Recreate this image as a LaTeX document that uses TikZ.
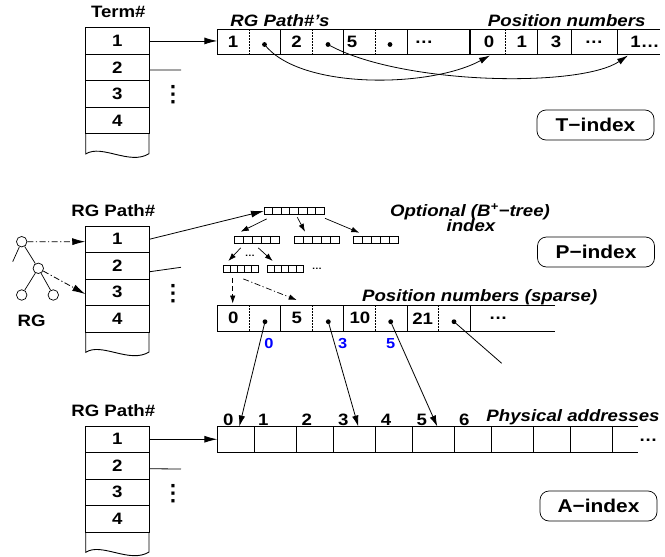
\documentclass[tikz,border=0pt]{standalone}
\usepackage{fontspec}
\setmainfont{Liberation Sans}[FakeStretch=1.13]
\usetikzlibrary{arrows.meta,calc}
\definecolor{lblue}{RGB}{0,0,255}
\newcommand\fs{\fontsize{16.5}{19}\selectfont\bfseries}
\newcommand\bnode[6]{% name, x left, y top, ncells-1, cellw, h
  \node[draw, line width=0.6pt, inner sep=0pt, minimum width={(#4+1)*#5}, minimum height=#6, anchor=north west] (#1) at (#2,#3) {};
  \foreach \k in {1,...,#4} \draw[line width=0.6pt] ({#2+\k*#5},#3) -- ++(0,#6);
}
\tikzset{
  lbl/.style={font=\fs, inner sep=0pt},
  ilbl/.style={font=\fs\itshape, inner sep=0pt},
  blbl/.style={font=\fontsize{14.5}{16}\selectfont\bfseries, text=lblue, inner sep=0pt},
  sdots/.style={font=\fontsize{9}{10}\selectfont\bfseries, inner sep=0pt},
  rowcell/.style={draw, minimum width=63.3pt, minimum height=26.5pt, inner sep=0pt, font=\fs},
  sepd/.style={line width=0.5pt, dash pattern=on 1.5pt off 1.5pt},
  bul/.style={circle, fill, inner sep=0pt, minimum size=4.8pt},
  idxbox/.style={draw, rounded corners=9pt, minimum width=117pt, minimum height=30pt, font=\fontsize{18.5}{20}\selectfont\bfseries, line width=0.7pt},
  dashdot/.style={dash pattern=on 6pt off 2.5pt on 1.2pt off 2.5pt},
  bigtip/.style={-{Latex[length=13pt,width=7pt]}},
  midtip/.style={-{Latex[length=11pt,width=6.5pt]}},
  smalltip/.style={-{Latex[length=8pt,width=5.5pt]}},
  vdts/.style={font=\fontsize{21}{22}\selectfont\bfseries, rotate=90, inner sep=0pt},
  gnode/.style={circle, draw, minimum size=10.5pt, inner sep=0pt, line width=0.7pt},
  idcol/.pic={
    \foreach \i in {1,2,3,4}{\node[rowcell] (-r\i) at (31.65,{(\i-0.5)*26.5}) {\i};}
    \draw (0,106) -- (0,126.3) .. controls (16,116) and (44,138) .. (63.3,126) -- (63.3,106);
  }
}
\begin{document}
\begin{tikzpicture}[x=1pt, y=-1pt, line width=0.9pt]
\useasboundingbox (0,0) rectangle (665,557);

% ================= T-index =================
\node[lbl, anchor=base] (tterm) at (118.3,17.3) {Term\#};
\pic (t) at (85.7,27.7) {idcol};
\node[vdts] (tvd) at (173,95) {…};

\draw (660,29.3) -- (217.3,29.3) -- (217.3,54.3) -- (660,54.3);
\foreach \x in {280.3,343.7,407,537.7,571,617.7} \draw (\x,29.3) -- (\x,54.3);
\draw[line width=2.2pt] (470.3,29.3) -- (470.3,54.3);
\foreach \x in {249,312.3,375,505.7} \draw[sepd] (\x,29.3) -- (\x,54.3);
\coordinate (tin) at (217.3,41);
\draw[bigtip] (t-r1.east) -- (tin |- t-r1.east);
\coordinate (tr2end) at (181,70);
\draw[line width=0.8pt] ([shift={(0,2.5)}]t-r2.east) -- (tr2end);

\node[ilbl, anchor=base] (trg) at (280,26.7) {RG Path\#’s};
\node[ilbl, anchor=base] (tpos) at (566.7,26.7) {Position numbers};

\node[lbl] (tc1) at (233,41.8) {1};
\node[bul] (td1) at (264.5,44.5) {};
\node[lbl] (tc2) at (296.5,41.8) {2};
\node[bul] (td2) at (328,44.5) {};
\node[lbl] (tc3) at (352,41.8) {5};
\node[bul] (td3) at (390,44.5) {};
\node[lbl] (tc4) at (424,41.8) {…};
\node[lbl] (tq0) at (489,41.8) {0};
\node[lbl] (tq1) at (521.7,41.8) {1};
\node[lbl] (tq2) at (556,41.8) {3};
\node[lbl] (tq3) at (594,41.8) {…};
\node[lbl] (tq4) at (645,41.8) {1…};
\coordinate (tp0) at (490,55.5);
\coordinate (tp1) at (628,55.5);
\draw[midtip, line width=0.8pt] (td1.center) .. controls (300,90) and (430,88) .. (tp0);
\draw[midtip, line width=0.8pt] (td2.center) .. controls (400,85) and (580,88) .. (tp1);

\node[idxbox] (tidx) at (595.5,125) {T−index};

% ================= P-index =================
\node[lbl, anchor=base] (prgp) at (113.3,216) {RG Path\#};
\pic (p) at (85.7,226) {idcol};
\node[vdts] (pvd) at (173,294) {…};

% RG tree
\node[gnode] (g1) at (21.7,241.7) {};
\node[gnode] (g2) at (38.3,268.3) {};
\node[gnode] (g3) at (21.7,295) {};
\node[gnode] (g4) at (53.3,295) {};
\coordinate (g0) at (12.7,261.7);
\begin{scope}[line width=0.7pt]
\draw (g1) -- (g0);
\draw (g1) -- (g2);
\draw (g2) -- (g3);
\draw (g2) -- (g4);
\end{scope}
\node[lbl, anchor=base] (rglbl) at (31.7,326.7) {RG};
\draw[dashdot, bigtip, line width=0.8pt] (g1) -- ([shift={(0,2.4)}]p-r1.west);
\draw[dashdot, bigtip, line width=0.8pt] (g2) -- ([shift={(0,1.8)}]p-r3.west);

% B+ tree
\bnode{b0}{264}{207.3}{6}{8.57}{6.7}
\bnode{b1}{234.3}{236}{4}{8.95}{7.3}
\bnode{b2}{294.3}{236}{4}{8.95}{7.3}
\bnode{b3}{353.3}{236}{4}{9}{7.3}
\bnode{b4}{222.7}{265}{4}{7.12}{6.7}
\bnode{b5}{266.7}{265}{4}{7.32}{6.7}
\node[sdots] (bd1) at (250,255.5) {…};
\node[sdots] (bd2) at (317,268.5) {…};

\draw[bigtip, line width=0.8pt] (p-r1.east) -- (b0.west);
\coordinate (pr2end) at (181,267.3);
\draw[line width=0.8pt] ([shift={(0,6)}]p-r2.east) -- (pr2end);

\begin{scope}[line width=0.7pt]
\draw[smalltip] ([shift={(2.7,4.3)}]b0.south west) -- ([shift={(6.4,-4.3)}]b1.north west);
\draw[smalltip] ([shift={(33.3,2.7)}]b0.south west) -- ([shift={(10.7,-4.3)}]b2.north west);
\draw[smalltip] ([shift={(61,3.7)}]b0.south west) -- ([shift={(6,-3.3)}]b3.north west);
\draw[smalltip] ([shift={(6.4,4)}]b1.south west) -- ([shift={(5.6,-4)}]b4.north west);
\draw[smalltip] ([shift={(24,4)}]b1.south west) -- ([shift={(6,-4)}]b5.north west);
\coordinate (pa0) at (232.7,303.5);
\coordinate (pa1) at (296.7,300);
\draw[smalltip, dash pattern=on 5pt off 3pt] ([shift={(10,5.6)}]b4.south west) -- (pa0);
\draw[smalltip, dashdot] ([shift={(20.6,6.6)}]b4.south west) -- (pa1);
\end{scope}

\node[ilbl, align=center, anchor=base] (opt) at (470,216.7) {Optional (B\textsuperscript{+}−tree)};
\node[ilbl, anchor=base] (optidx) at (471,231.7) {index};

% sparse position array
\node[ilbl, anchor=base west] (ppos) at (361.7,301) {Position numbers (sparse)};
\draw (555,305) -- (217.3,305) -- (217.3,331.7) -- (555,331.7);
\foreach \x in {280.3,343.7,407,470} \draw (\x,305) -- (\x,331.7);
\foreach \x in {249,312.3,375,438.3} \draw[sepd] (\x,305) -- (\x,331.7);
\node[lbl] (pc1) at (233.3,318.3) {0};
\node[bul] (pd1) at (265,321.7) {};
\node[lbl] (pc2) at (296.7,318.3) {5};
\node[bul] (pd2) at (328.3,321.7) {};
\node[lbl] (pc3) at (360,318.3) {10};
\node[bul] (pd3) at (390.7,321.7) {};
\node[lbl] (pc4) at (422.7,318.3) {21};
\node[bul] (pd4) at (454,321.7) {};
\node[lbl] (pc5) at (498.3,318.3) {…};
\node[blbl] (bl0) at (269,343.3) {0};
\node[blbl] (bl3) at (342.7,343.3) {3};
\node[blbl] (bl5) at (390.7,343.3) {5};

\node[idxbox] (pidx) at (596,252) {P−index};

% ================= A-index =================
\node[lbl, anchor=base] (argp) at (113.3,416) {RG Path\#};
\pic (a) at (85.7,426) {idcol};
\node[vdts] (avd) at (173,494) {…};

\draw (638.3,426.7) -- (217.3,426.7) -- (217.3,452.7) -- (638.3,452.7);
\foreach \x in {254.3,296.7,333.3,375.7,412.3,454.3,491,533.3,570,612.3} \draw (\x,426.7) -- (\x,452.7);
\node[lbl] (aell) at (648.3,440) {…};
\coordinate (ain) at (217.3,440);
\draw[bigtip] (a-r1.east) -- (ain |- a-r1.east);
\coordinate (ar2end) at (181,469);
\draw[line width=0.8pt] ([shift={(0,3)}]a-r2.east) -- (ar2end);

\foreach \n/\x in {0/228.3,1/263.3,2/306.7,3/343.3,4/386,5/421.7,6/464.3}
  \node[lbl, anchor=base] (an\n) at (\x,425.5) {\n};
\node[ilbl, anchor=base] (aphys) at (573,421.7) {Physical addresses};

\coordinate (at0) at (239.3,426.5);
\coordinate (at3) at (358.3,426.5);
\coordinate (at5) at (437.3,426.5);
\coordinate (pd4end) at (501.7,363.3);
\draw[midtip, line width=0.8pt] (pd1.center) -- (at0);
\draw[midtip, line width=0.8pt] (pd2.center) -- (at3);
\draw[midtip, line width=0.8pt] (pd3.center) -- (at5);
\draw[line width=0.8pt] (pd4.center) -- (pd4end);

\node[idxbox] (aidx) at (598.5,506) {A−index};
\end{tikzpicture}
\end{document}
